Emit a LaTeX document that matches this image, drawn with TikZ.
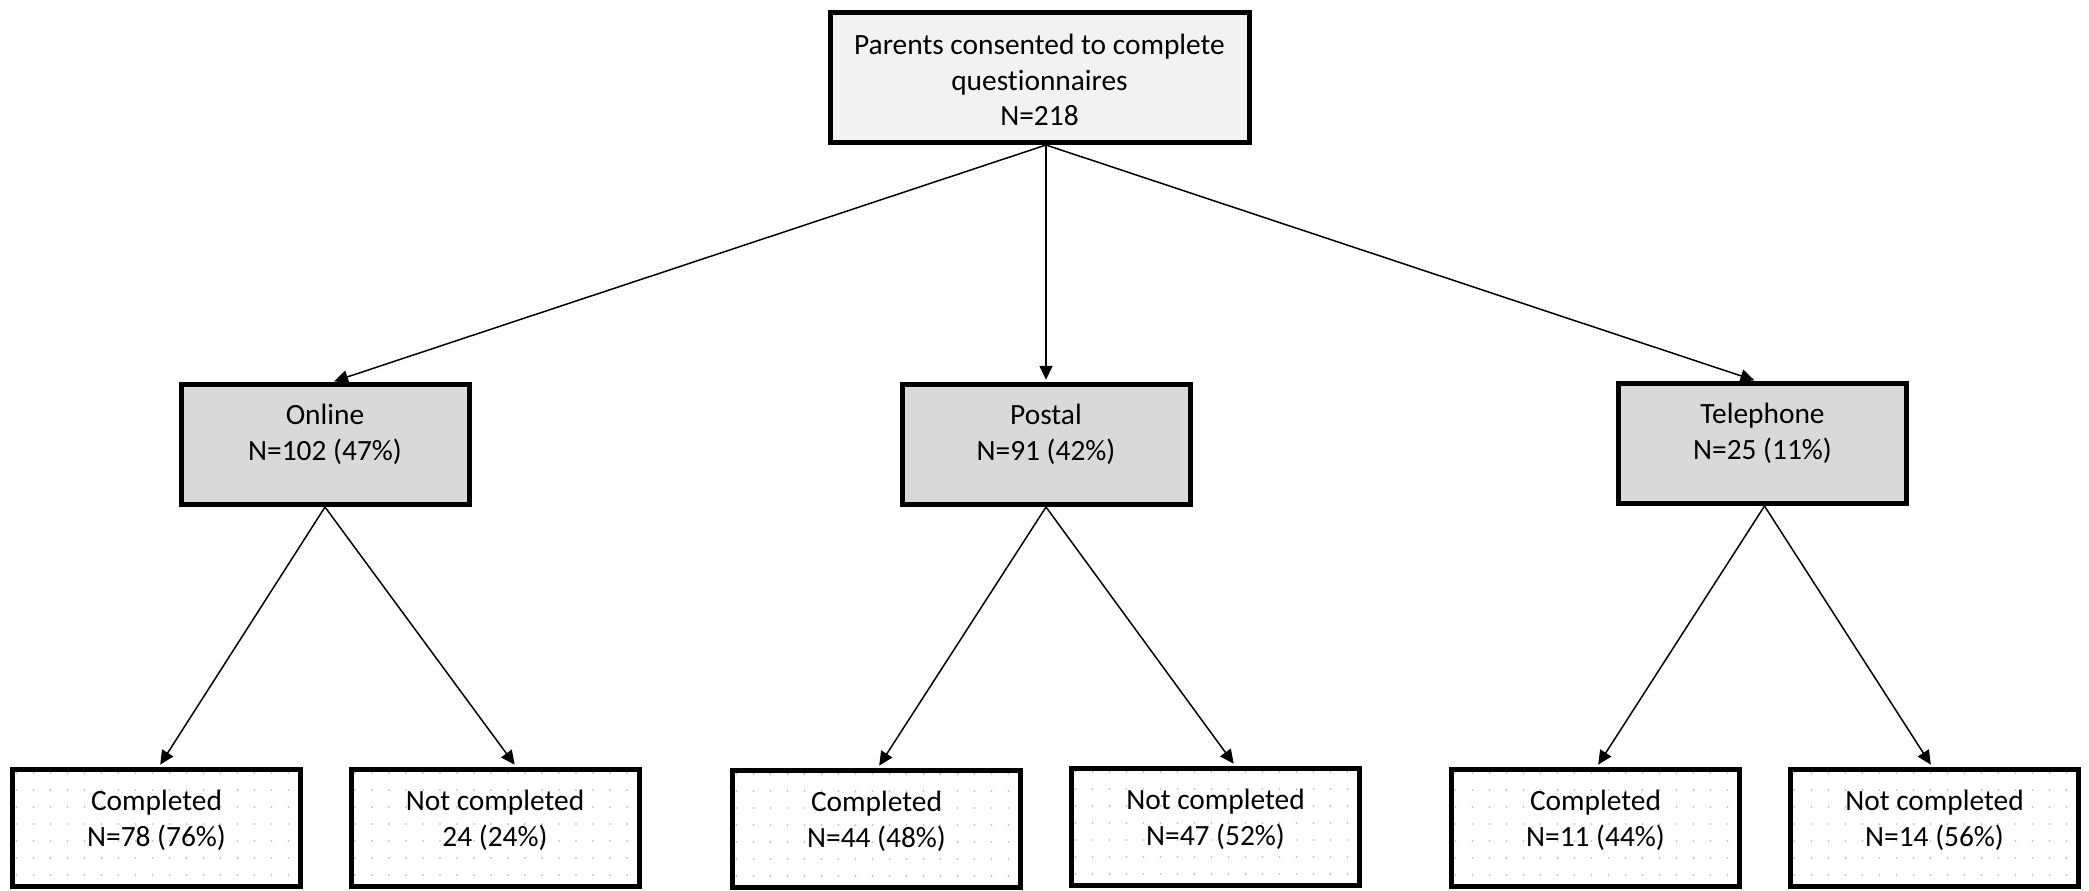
\documentclass[tikz,border=0pt]{standalone}
\usepackage{fontspec}
\setmainfont{Carlito}[Ligatures=NoCommon]
\usetikzlibrary{arrows.meta,calc}
\definecolor{topfill}{HTML}{F2F2F2}
\definecolor{midfill}{HTML}{D9D9D9}
\definecolor{dotc}{HTML}{C4C4C4}
\begin{document}
\begin{tikzpicture}[x=0.5pt,y=-0.5pt,
  box/.style={draw=black,line width=2.5pt,rectangle,inner sep=0pt},
  topbox/.style={box,fill=topfill,minimum width=209.5pt,minimum height=65pt},
  midbox/.style={box,fill=midfill,minimum width=144pt,minimum height=60pt},
  botbox/.style={box,fill=white,minimum width=144pt,minimum height=58.5pt,
    path picture={
      \foreach \i in {0,...,17}{
        \foreach \j in {0,...,7}{
          \fill[dotc] ([shift={(4+\i*17,4+\j*17)}]path picture bounding box.north west) circle[radius=1.1];
        }
      }
    }},
  txt/.style={align=center,font=\fontsize{14.7}{17.8}\selectfont,inner sep=0pt},
  arr/.style={line width=0.75pt,-{Triangle[length=7pt,width=6.5pt]},shorten >=1.1pt}]
\useasboundingbox (0,0) rectangle (2089,890);

% boxes
\node[topbox] (top) at (1039.5,77.5) {};
\node[midbox] (online) at (325,444.5) {};
\node[midbox] (postal) at (1046,444.5) {};
\node[midbox] (telephone) at (1762.5,443.5) {};
\node[botbox] (c1) at (156.5,827.5) {};
\node[botbox] (nc1) at (495,827.5) {};
\node[botbox] (c2) at (876.5,828.5) {};
\node[botbox] (nc2) at (1215.5,826.5) {};
\node[botbox] (c3) at (1595.5,827.5) {};
\node[botbox] (nc3) at (1934.5,827.5) {};

% texts
\node[txt] (topT) at ([yshift=-1.2pt]top.center) {Parents consented to complete\\questionnaires\\N=218};
\node[txt] (onlineT) at ([yshift=5.2pt]online.center) {Online\\N=102 (47\%)};
\node[txt] (postalT) at ([yshift=5.2pt]postal.center) {Postal\\N=91 (42\%)};
\node[txt] (telephoneT) at ([yshift=5.2pt]telephone.center) {Telephone\\N=25 (11\%)};
\node[txt] (c1T) at ([yshift=3.5pt]c1.center) {Completed\\N=78 (76\%)};
\node[txt] (nc1T) at ([yshift=3.5pt]nc1.center) {Not completed\\24 (24\%)};
\node[txt] (c2T) at ([yshift=3.5pt]c2.center) {Completed\\N=44 (48\%)};
\node[txt] (nc2T) at ([yshift=3.5pt]nc2.center) {Not completed\\N=47 (52\%)};
\node[txt] (c3T) at ([yshift=3.5pt]c3.center) {Completed\\N=11 (44\%)};
\node[txt] (nc3T) at ([yshift=3.5pt]nc3.center) {Not completed\\N=14 (56\%)};

% connectors
\draw[arr] ($(top.south)+(6.5,0)$) -- ($(online.north)+(7,0)$);
\draw[arr] ($(top.south)+(6.5,0)$) -- (postal.north);
\draw[arr] ($(top.south)+(6.5,0)$) -- ($(telephone.north)+(-6,0)$);
\draw[arr] (online.south) -- ($(c1.north)+(2.5,0)$);
\draw[arr] (online.south) -- ($(nc1.north)+(21,0)$);
\draw[arr] (postal.south) -- ($(c2.north)+(1.5,0)$);
\draw[arr] (postal.south) -- ($(nc2.north)+(19.5,0)$);
\draw[arr] ($(telephone.south)+(2,0)$) -- ($(c3.north)+(1.5,0)$);
\draw[arr] ($(telephone.south)+(2,0)$) -- ($(nc3.north)+(-2.5,0)$);
\end{tikzpicture}
\end{document}
